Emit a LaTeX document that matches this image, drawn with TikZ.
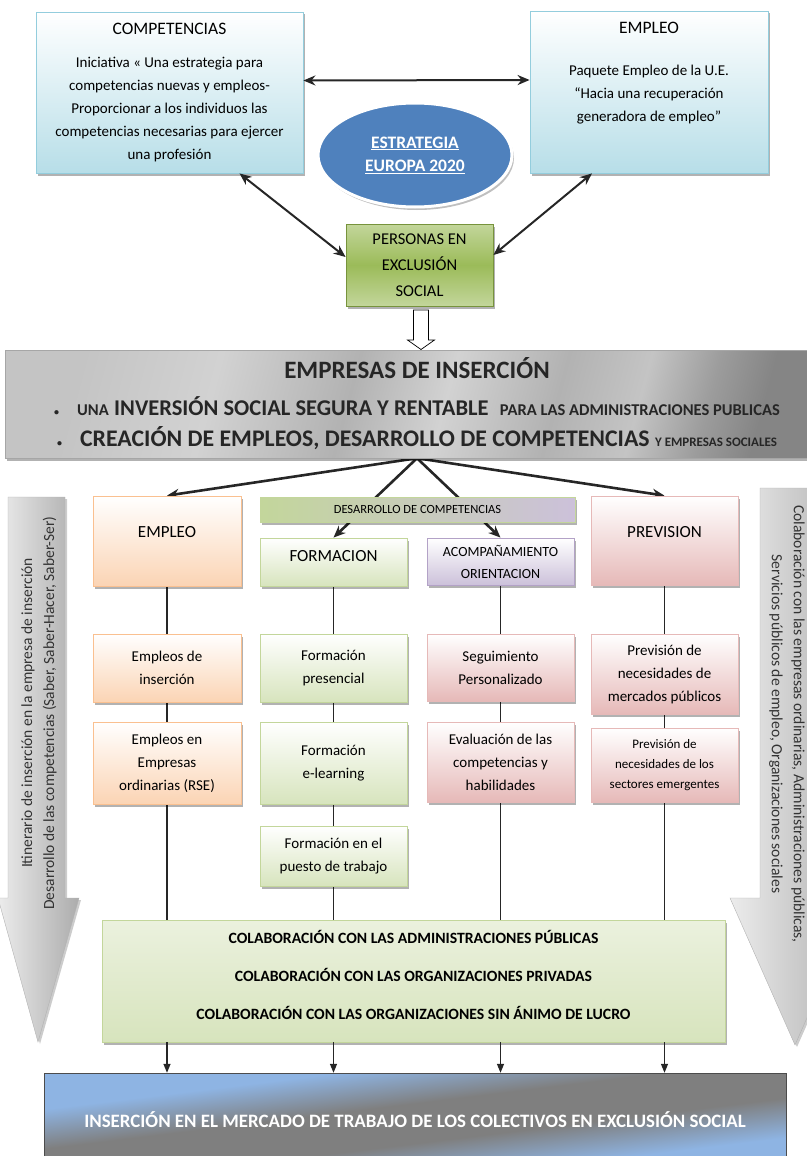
\documentclass[tikz,border=0pt]{standalone}
\usepackage{fontspec}
\setmainfont{Carlito}
\usetikzlibrary{arrows.meta,shapes.geometric,shadows,backgrounds}

\definecolor{azzurro}{HTML}{B7DEE8}
\definecolor{azzurrobordo}{HTML}{93CDDD}
\definecolor{verde}{HTML}{9BBB59}
\definecolor{verdescuro}{HTML}{77933C}
\definecolor{verdechiaro}{HTML}{D7E4BD}
\definecolor{verdepallido}{HTML}{EBF1DE}
\definecolor{verdebordo}{HTML}{C3D69B}
\definecolor{arancio}{HTML}{FBD4B4}
\definecolor{aranciobordo}{HTML}{FAC090}
\definecolor{viola}{HTML}{CCC1DA}
\definecolor{violabordo}{HTML}{B3A2C7}
\definecolor{rosa}{HTML}{E6B9B8}
\definecolor{rosabordo}{HTML}{E6B9B8}
\definecolor{blu}{HTML}{4F81BD}
\definecolor{blucielo}{HTML}{8EB4E3}
\definecolor{grigioA}{HTML}{C4C4C4}
\definecolor{grigioB}{HTML}{B2B2B2}
\definecolor{grigioL}{HTML}{D2D2D2}
\definecolor{grigioC}{HTML}{9C9C9C}
\definecolor{grigioD}{HTML}{858585}
\definecolor{grigioscuro}{HTML}{7F7F7F}

\pgfdeclarehorizontalshading{fasciagrigia}{100bp}{color(0bp)=(grigioA); color(25bp)=(grigioA); color(35bp)=(grigioL); color(45bp)=(grigioB); color(52bp)=(grigioL); color(60bp)=(grigioB); color(66bp)=(grigioA); color(71bp)=(grigioC); color(75bp)=(grigioD); color(100bp)=(grigioD)}
\pgfdeclarehorizontalshading{fasciablu}{100bp}{color(0bp)=(blucielo); color(25bp)=(blucielo); color(33bp)=(blucielo); color(45bp)=(grigioscuro); color(57bp)=(grigioscuro); color(69bp)=(blucielo); color(75bp)=(blucielo); color(100bp)=(blucielo)}

\begin{document}
\begin{tikzpicture}[x=1pt, y=-1pt,
    scatola/.style={rectangle, draw, line width=0.8pt, inner sep=2pt, align=center,
        font=\fontsize{15}{23}\selectfont,
        drop shadow={shadow xshift=2pt, shadow yshift=-2.5pt, fill=black, opacity=0.3}},
    azzurra/.style={scatola, draw=azzurrobordo, top color=white, bottom color=azzurro},
    arancione/.style={scatola, draw=aranciobordo, top color=white, bottom color=arancio},
    verdina/.style={scatola, draw=verdebordo, top color=white, bottom color=verdechiaro},
    violetta/.style={scatola, draw=violabordo, top color=white, bottom color=viola},
    rosata/.style={scatola, draw=rosabordo, top color=white, bottom color=rosa},
    titolo/.style={font=\fontsize{17}{23}\selectfont},
    doppia/.style={{Stealth[length=12pt,width=10pt]}-{Stealth[length=12pt,width=10pt]}, line width=2pt, black!85},
    ramo/.style={-{Stealth[length=12pt,width=10pt]}, line width=2.6pt, black!85},
    colonna/.style={line width=1.8pt, black!85},
    discesa/.style={-{Triangle[length=9pt,width=7pt]}, line width=1.3pt, black!85},
    laterale/.style={draw=gray!60, left color=gray!15, right color=gray!65,
        drop shadow={shadow xshift=2pt, shadow yshift=-2pt, fill=black, opacity=0.2}},
]
    \useasboundingbox (0,0) rectangle (806,1156);

    % =========================================
    % === STRATEGIA (In alto) ===
    % =========================================

    % Riquadro competenze
    \node[azzurra, minimum width=267pt, minimum height=161pt] (comp) at (169.5,92.5)
        {{\fontsize{17.5}{23}\selectfont COMPETENCIAS}\\[10pt]
         Iniciativa « Una estrategia para\\
         competencias nuevas y empleos-\\
         Proporcionar a los individuos las\\
         competencias necesarias para ejercer\\
         una profesión};

    % Riquadro impiego
    \node[azzurra, minimum width=238pt, minimum height=162pt] (empl) at (649,92)
        {{\fontsize{17.5}{23}\selectfont EMPLEO}\\[19pt]
         Paquete Empleo de la U.E.\\
         “Hacia una recuperación\\
         generadora de empleo”\\[17pt]\mbox{}};

    % Ellisse centrale
    \node[ellipse, fill=blu, draw=white, line width=3pt, minimum width=194pt, minimum height=104pt,
          text=white, align=center, font=\bfseries\fontsize{17.5}{23}\selectfont,
          drop shadow={shadow xshift=2pt, shadow yshift=-3pt, fill=black, opacity=0.25}] (strat) at (415,155)
        {\underline{ESTRATEGIA}\\\underline{EUROPA 2020}};

    % Persone in esclusione
    \node[scatola, draw=verdescuro, top color=verdebordo, bottom color=verdebordo, middle color=verde,
          font=\fontsize{16.5}{26}\selectfont, minimum width=147pt, minimum height=82pt] (pers) at (419.5,265)
        {PERSONAS EN\\EXCLUSIÓN\\SOCIAL};

    % Frecce doppie
    \draw[doppia] ([yshift=12pt]comp.east) -- ([yshift=12pt]empl.west);
    \draw[doppia] ([xshift=70pt]comp.south) -- ([yshift=8pt]pers.west);
    \draw[doppia] ([xshift=-57pt]empl.south) -- ([yshift=10pt]pers.east);

    % Freccia vuota verso il basso
    \draw[fill=white, line width=0.7pt] (413.5,310) -- (428.5,310) -- (428.5,340) -- (434.5,340)
        -- (421,349.5) -- (407.5,340) -- (413.5,340) -- cycle;

    % =========================================
    % === IMPRESE DI INSERIMENTO ===
    % =========================================

    \node[rectangle, draw=gray!70, shading=fasciagrigia, shading angle=-15, minimum width=824pt, minimum height=108pt,
          align=center, font=\bfseries\fontsize{23.8}{34}\selectfont, text=black!85,
          drop shadow={shadow xshift=2pt, shadow yshift=-3pt, fill=black, opacity=0.3}] (banner) at (417,404)
        {{\fontsize{25}{34}\selectfont EMPRESAS DE INSERCIÓN}\\[3pt]
         {\fontsize{10}{10}\selectfont\textbullet}\hspace{18pt}{\fontsize{16.5}{16}\selectfont UNA} {\fontsize{22.5}{22}\selectfont INVERSIÓN SOCIAL SEGURA Y RENTABLE}\hspace{6pt} {\fontsize{16.5}{16}\selectfont PARA LAS ADMINISTRACIONES PUBLICAS}\\[-3pt]
         {\fontsize{10}{10}\selectfont\textbullet}\hspace{18pt}CREACIÓN DE EMPLEOS, DESARROLLO DE COMPETENCIAS {\fontsize{13}{13}\selectfont Y EMPRESAS SOCIALES}};

    % Colonne: intestazioni
    \node[arancione, titolo, minimum width=148pt, minimum height=90pt] (emp) at (167,541) {EMPLEO\\[-5pt]\mbox{}};
    \node[verdina, titolo, minimum width=147pt, minimum height=48pt] (form) at (333.5,562) {FORMACION\\[-11pt]\mbox{}};
    \node[violetta, font=\fontsize{14}{22}\selectfont, minimum width=147pt, minimum height=47pt] (acomp) at (500.5,561.5) {ACOMPAÑAMIENTO\\ORIENTACION};
    \node[rosata, titolo, minimum width=147pt, minimum height=89pt] (prev) at (664.5,540.5) {PREVISION\\[-5pt]\mbox{}};

    % Colonne: seconda riga
    \node[arancione, minimum width=148pt, minimum height=68pt] (empI) at (167,668) {Empleos de\\inserción};
    \node[verdina, minimum width=147pt, minimum height=68pt] (formP) at (333.5,668) {Formación\\presencial};
    \node[rosata, minimum width=147pt, minimum height=67pt] (seg) at (500.5,667.5) {Seguimiento\\Personalizado};
    \node[rosata, minimum width=147pt, minimum height=80pt] (prevM) at (664.5,674) {Previsión de\\necesidades de\\mercados públicos};

    % Colonne: terza riga
    \node[arancione, minimum width=148pt, minimum height=82pt] (empE) at (167,763) {Empleos en\\Empresas\\ordinarias (RSE)};
    \node[verdina, minimum width=147pt, minimum height=82pt] (formE) at (333.5,763) {Formación\\e-learning};
    \node[rosata, minimum width=147pt, minimum height=80pt] (eval) at (500.5,762) {Evaluación de las\\competencias y\\habilidades};
    \node[rosata, font=\fontsize{13}{20}\selectfont, minimum width=147pt, minimum height=74pt] (prevS) at (664.5,765) {Previsión de\\necesidades de los\\sectores emergentes};

    % Colonne: quarta riga
    \node[verdina, minimum width=147pt, minimum height=60pt] (formT) at (333.5,856) {Formación en el\\puesto de trabajo};

    % Collaborazioni
    \node[scatola, draw=verdebordo, top color=verdepallido, bottom color=verdechiaro,
          font=\bfseries\fontsize{15.7}{38}\selectfont, minimum width=623pt, minimum height=122pt] (colab) at (413.5,981)
        {COLABORACIÓN CON LAS ADMINISTRACIONES PÚBLICAS\\
         COLABORACIÓN CON LAS ORGANIZACIONES PRIVADAS\\
         COLABORACIÓN CON LAS ORGANIZACIONES SIN ÁNIMO DE LUCRO\\[-26pt]\mbox{}};

    % Inserimento finale
    \node[rectangle, draw=black!70, shading=fasciablu, shading angle=-83, minimum width=742pt, minimum height=94pt,
          text=white, font=\bfseries\fontsize{18.9}{23}\selectfont] (ins) at (415,1120)
        {INSERCIÓN EN EL MERCADO DE TRABAJO DE LOS COLECTIVOS EN EXCLUSIÓN SOCIAL};

    % Barra sviluppo competenze (sopra le frecce)
    \node[scatola, draw=verdebordo, left color=verdebordo, right color=viola, font=\fontsize{12.5}{14}\selectfont,
          minimum width=315pt, minimum height=25pt] (desa) at (417.5,509.5) {DESARROLLO DE COMPETENCIAS};

    % Frecce e linee dietro i riquadri
    \begin{scope}[on background layer]
        \coordinate (apice) at (banner.south);
        \draw[ramo] (apice) -- (emp.north);
        \draw[ramo] (apice) -- (form.north);
        \draw[ramo] (apice) -- (acomp.north);
        \draw[ramo] (apice) -- (prev.north);

        \draw[colonna] (emp.south) -- (emp.south |- colab.north);
        \draw[colonna] (form.south) -- (form.south |- colab.north);
        \draw[colonna] (acomp.south) -- (acomp.south |- colab.north);
        \draw[colonna] (prev.south) -- (prev.south |- colab.north);
    \end{scope}

    \draw[discesa] (emp.south |- colab.south) -- (emp.south |- ins.north);
    \draw[discesa] (form.south |- colab.south) -- (form.south |- ins.north);
    \draw[discesa] (acomp.south |- colab.south) -- (acomp.south |- ins.north);
    \draw[discesa] (prev.south |- colab.south) -- (prev.south |- ins.north);

    % =========================================
    % === FRECCE LATERALI ===
    % =========================================

    \path[laterale] (8,497) -- (65,497) -- (65,898) -- (79,898) -- (38,1042) -- (-2,898) -- (8,898) -- cycle;
    \node[rotate=90, align=center, text=black!80, font=\fontsize{15.5}{22}\selectfont] (itin) at (39,713)
        {Itinerario de inserción en la empresa de inserción\\
         Desarrollo de las competencias (Saber, Saber-Hacer, Saber-Ser)};

    \path[laterale] (760,488) -- (830,488) -- (830,898) -- (860,898) -- (795,1045) -- (730,898) -- (760,898) -- cycle;
    \node[rotate=-90, align=center, text=black!80, font=\fontsize{15.6}{22}\selectfont] (colab2) at (787,724)
        {Colaboración con las empresas ordinarias, Administraciones públicas,\\
         Servicios públicos de empleo, Organizaciones sociales};

\end{tikzpicture}
\end{document}
